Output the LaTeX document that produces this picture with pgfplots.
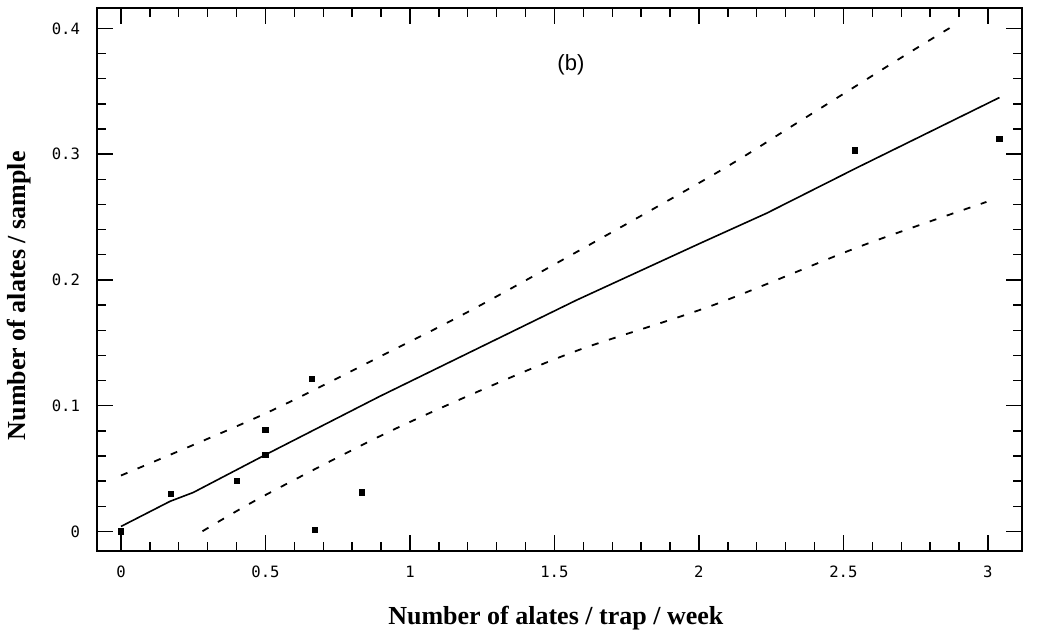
\documentclass[border=0pt]{standalone}
\usepackage{pgfplots}
\pgfplotsset{compat=1.18}
\usepackage{fontspec}
\setmainfont{Liberation Serif}
\newfontfamily\monofont{DejaVu Sans Mono}
\newfontfamily\sansfont{Liberation Sans}
\begin{document}
\begin{tikzpicture}
\begin{axis}[
  scale only axis,
  width=462.5pt, height=271.5pt,
  xmin=-0.083, xmax=3.118,
  ymin=-0.0155, ymax=0.4162,
  xtick={0,0.5,1,1.5,2,2.5,3},
  xticklabels={0,0.5,1,1.5,2,2.5,3},
  ytick={0,0.1,0.2,0.3,0.4},
  yticklabels={0,0.1,0.2,0.3,0.4},
  minor x tick num=4,
  minor y tick num=4,
  tick align=inside,
  major tick length=8pt,
  minor tick length=4.5pt,
  axis line style={line width=0.8pt},
  tick style={line width=0.7pt, black},
  ticklabel style={font=\monofont\fontsize{7.8}{9}\selectfont},
  xticklabel style={yshift=-4pt},
  yticklabel style={xshift=-5pt},
  xlabel={\bfseries Number of alates / trap / week},
  ylabel={\bfseries Number of alates / sample},
  xlabel style={font=\fontsize{13}{15}\selectfont, at={(rel axis cs:0.496,-0.123)}, anchor=center},
  ylabel style={font=\fontsize{13}{15}\selectfont, at={(rel axis cs:-0.084,0.47)}, anchor=center, rotate=0},
  clip=false,
]
% observed points
\addplot[only marks, mark=square*, mark size=1.3pt, black] coordinates {
  (0,0) (0.172,0.030) (0.402,0.0405) (0.5,0.081) (0.5,0.0606)
  (0.66,0.121) (0.671,0.001) (0.835,0.031) (2.54,0.303) (3.04,0.312)
};
% fitted line
\addplot[black, line width=0.8pt] coordinates {
  (0,0.004) (0.17,0.024) (0.25,0.031) (0.5,0.061) (0.896,0.1075)
  (1.577,0.184) (2.003,0.229) (2.234,0.253) (2.545,0.289) (3.04,0.345)
};
% upper confidence band
\addplot[black, line width=0.9pt, dash pattern=on 3.5pt off 5.5pt, smooth] coordinates {
  (0,0.0445) (0.492,0.093) (0.896,0.139) (1.277,0.184) (2.03,0.281)
  (2.338,0.3246) (2.695,0.376) (2.88,0.402)
};
% lower confidence band
\addplot[black, line width=0.9pt, dash pattern=on 3.5pt off 5.5pt, smooth] coordinates {
  (0.282,0.0002) (0.492,0.028) (0.907,0.077) (1.277,0.1154) (1.588,0.1446)
  (2.05,0.180) (2.557,0.2266) (2.995,0.262)
};
\node[font=\sansfont\fontsize{11}{13}\selectfont] at (axis cs:1.557,0.371) {(b)};
\coordinate (sw) at (rel axis cs:0,0);
\coordinate (ne) at (rel axis cs:1,1);
\end{axis}
\pgfresetboundingbox
\path[use as bounding box] ([shift={(-48.5pt,-41.5pt)}]sw) rectangle ([shift={(9.5pt,4pt)}]ne);
\end{tikzpicture}
\end{document}
